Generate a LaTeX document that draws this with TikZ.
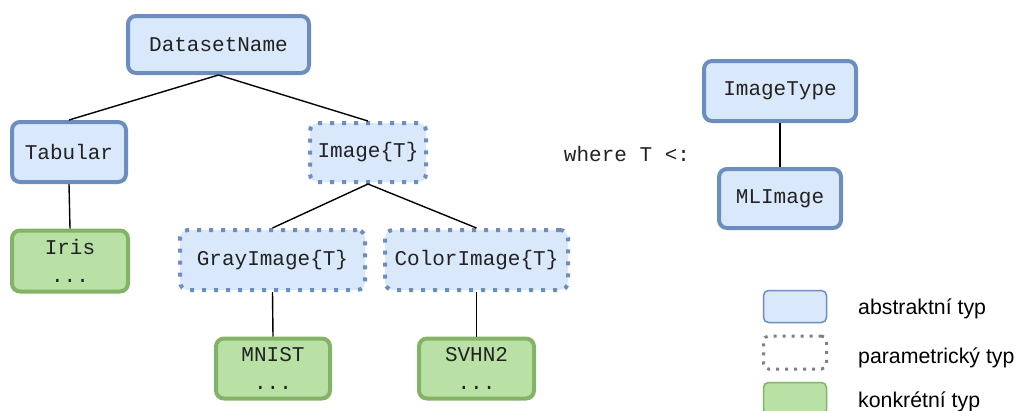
\documentclass[tikz,border=0pt]{standalone}
\usepackage{fontspec}
\setmainfont{Liberation Sans}
\newfontfamily\codefont{Liberation Mono}
\definecolor{absfill}{HTML}{DAE8FC}
\definecolor{absline}{HTML}{6C8EBF}
\definecolor{conffill}{HTML}{B9E0A5}
\definecolor{conline}{HTML}{82B366}
\definecolor{txt}{HTML}{222222}
\begin{document}
\begin{tikzpicture}[x=1pt,y=-1pt,
  typebox/.style={rectangle, rounded corners=8pt, line width=4pt, inner sep=0pt,
    align=center, text=txt, font=\codefont\fontsize{21}{28}\selectfont},
  abstractbox/.style={typebox, draw=absline, fill=absfill},
  parambox/.style={typebox, draw=absline, fill=absfill, dash pattern=on 4pt off 8pt},
  concretebox/.style={typebox, draw=conline, fill=conffill},
  edge/.style={line width=1.4pt, black},
  legendtext/.style={anchor=base west, inner sep=0pt, text=black, font=\fontsize{21.3}{25}\selectfont}
]
\clip (0,0) rectangle (1016,410);

% hierarchy of dataset types
\node[abstractbox, minimum width=181pt, minimum height=57pt] (ds) at (218.5,44.5) {DatasetName};
\node[abstractbox, minimum width=114pt, minimum height=60pt] (tab) at (69,152) {Tabular};
\node[parambox, minimum width=116pt, minimum height=59pt] (img) at (368,152.5) {Image\{T\}};
\node[concretebox, minimum width=116pt, minimum height=61pt] (iris) at (70,261) {Iris\\...};
\node[parambox, minimum width=185pt, minimum height=60pt] (gray) at (272.5,260) {GrayImage\{T\}};
\node[parambox, minimum width=183pt, minimum height=60pt] (color) at (476.5,260) {ColorImage\{T\}};
\node[concretebox, minimum width=114pt, minimum height=60pt] (mnist) at (273,368.5) {MNIST\\...};
\node[concretebox, minimum width=115pt, minimum height=60pt] (svhn) at (476.5,368.5) {SVHN2\\...};

\draw[edge] (ds.south) -- (tab.north);
\draw[edge] (ds.south) -- (img.north);
\draw[edge] (tab.south) -- (iris.north);
\draw[edge] (img.south) -- (gray.north);
\draw[edge] (img.south) -- (color.north);
\draw[edge] (gray.south) -- (mnist.north);
\draw[edge] (color.south) -- (svhn.north);

% type parameter bound
\node[text=txt, inner sep=0pt, font=\codefont\fontsize{21}{28}\selectfont] (where) at (627,154) {where T <:};
\node[abstractbox, minimum width=152pt, minimum height=60pt] (itype) at (780,91) {ImageType};
\node[abstractbox, minimum width=122pt, minimum height=59pt] (ml) at (780,198.5) {MLImage};
\draw[edge] (itype.south) -- (ml.north);

% legend
\node[rectangle, rounded corners=5pt, draw=absline, fill=absfill, line width=1.5pt,
  minimum width=63pt, minimum height=32pt] (lgabs) at (795,306.5) {};
\node[rectangle, rounded corners=5pt, draw=black!50, line width=3pt, dash pattern=on 3pt off 6pt,
  minimum width=63pt, minimum height=33pt] (lgpar) at (795,352.5) {};
\node[rectangle, rounded corners=5pt, draw=conline, fill=conffill, line width=1.5pt,
  minimum width=63pt, minimum height=32pt] (lgcon) at (795,398.5) {};
\node[legendtext] (tabs) at (858,314) {abstraktní typ};
\node[legendtext] (tpar) at (858,363) {parametrický typ};
\node[legendtext] (tcon) at (858,407) {konkrétní typ};
\end{tikzpicture}
\end{document}
